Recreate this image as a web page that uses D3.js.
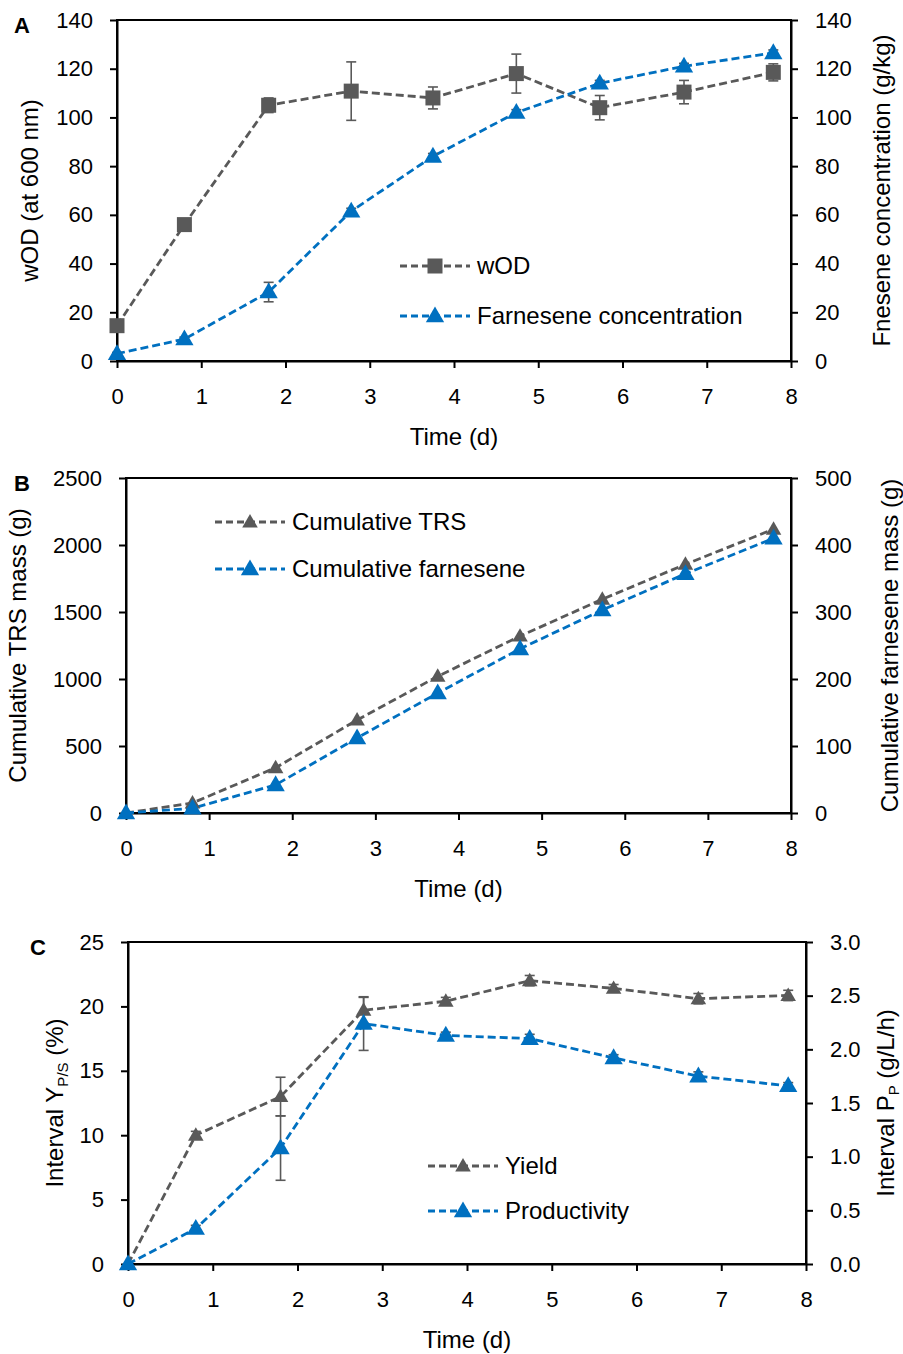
<!DOCTYPE html>
<html>
<head>
<meta charset="utf-8">
<script src="https://cdn.jsdelivr.net/npm/d3@7"></script>
<style>
  body { margin: 0; background: #fff; }
  svg { font-family: "Liberation Sans", Arial, sans-serif; }
</style>
</head>
<body>
<div id="chart"></div>
<script>
"use strict"

// sampling times (d)
const days = [0, 0.8, 1.8, 2.78, 3.75, 4.74, 5.73, 6.73, 7.79]
const xTicks = [0, 1, 2, 3, 4, 5, 6, 7, 8]

// panel A
const wOD = [14.5, 56, 105, 110.8, 108, 118, 104, 110.4, 118.5]
const wODErr = [1, 1, 3, 12, 4.5, 8, 5, 4.8, 3.5]
const farnConc = [3, 9, 28.3, 61.5, 84, 102, 114, 121, 126.5]
const farnConcErr = [0.5, 0.8, 4, 1.2, 1.2, 1.2, 1.2, 1.2, 1.2]
const aLeftTicks = [0, 20, 40, 60, 80, 100, 120, 140]
const aRightTicks = [0, 20, 40, 60, 80, 100, 120, 140]

// panel B
const cumTRS = [0, 75, 338, 694, 1020, 1320, 1595, 1856, 2118]
const cumFarn = [0, 7, 42, 112, 179, 245, 303, 357, 410]
const bLeftTicks = [0, 500, 1000, 1500, 2000, 2500]
const bRightTicks = [0, 100, 200, 300, 400, 500]

// panel C
const yieldPct = [0, 10, 13, 19.7, 20.4, 22, 21.4, 20.6, 20.85]
const yieldErr = [0, 0.3, 1.5, 1.0, 0.3, 0.4, 0.3, 0.4, 0.4]
const productivity = [0, 0.33, 1.08, 2.24, 2.13, 2.1, 1.92, 1.75, 1.66]
const prodErr = [0, 0.03, 0.3, 0.25, 0.03, 0.04, 0.03, 0.04, 0.03]
const cLeftTicks = [0, 5, 10, 15, 20, 25]
const cRightTicks = [0, 0.5, 1, 1.5, 2, 2.5, 3]

const gray = "#595959"
const blue = "#0070C0"

const svg = d3.select("#chart").append("svg")
  .attr("width", 903)
  .attr("height", 1354)

function marker(g, shape, color, x, y, big) {
  if (shape == "square") {
    g.append("rect")
      .attr("x", x - 7.5).attr("y", y - 7.5)
      .attr("width", 15).attr("height", 15)
      .attr("fill", color)
  } else {
    g.append("path")
      .attr("d", d3.symbol(d3.symbolTriangle, big ? 145 : 105)())
      .attr("transform", `translate(${x},${y + 1})`)
      .attr("fill", color)
  }
}

function drawPanel(p) {
  const g = svg.append("g")

  const x = d3.scaleLinear().domain([0, 8]).range([p.left, p.right])
  const yL = d3.scaleLinear().domain(p.leftDomain).range([p.bottom, p.top])
  const yR = d3.scaleLinear().domain(p.rightDomain).range([p.bottom, p.top])

  // frame
  g.append("rect")
    .attr("x", p.left).attr("y", p.top)
    .attr("width", p.right - p.left).attr("height", p.bottom - p.top)
    .attr("fill", "none").attr("stroke", "#000").attr("stroke-width", 2)

  const fmtR = p.rightFormat || (d => d)

  const axL = g.append("g")
    .attr("transform", `translate(${p.left},0)`)
    .call(d3.axisLeft(yL).tickValues(p.leftTicks).tickFormat(d => d).tickSize(7).tickSizeOuter(0).tickPadding(17))
  const axR = g.append("g")
    .attr("transform", `translate(${p.right},0)`)
    .call(d3.axisRight(yR).tickValues(p.rightTicks).tickFormat(fmtR).tickSize(7).tickSizeOuter(0).tickPadding(17))
  const axB = g.append("g")
    .attr("transform", `translate(0,${p.bottom})`)
    .call(d3.axisBottom(x).tickValues(xTicks).tickFormat(d => d).tickSize(7).tickSizeOuter(0).tickPadding(20))

  for (let ax of [axL, axR, axB]) {
    ax.select(".domain").attr("stroke-width", 2)
    ax.selectAll(".tick line").attr("stroke-width", 2)
    ax.selectAll(".tick text")
      .attr("font-size", 22)
      .attr("font-family", "Liberation Sans, Arial, sans-serif")
      .attr("fill", "#000")
  }

  // axis titles
  g.append("text")
    .attr("x", (p.left + p.right) / 2)
    .attr("y", p.bottom + 84)
    .attr("text-anchor", "middle")
    .attr("font-size", 24)
    .text("Time (d)")

  const lt = g.append("text")
    .attr("transform", `translate(${p.leftTitleX},${(p.top + p.bottom) / 2}) rotate(-90)`)
    .attr("text-anchor", "middle")
    .attr("dy", "0.35em")
    .attr("font-size", 24)
  p.leftTitle(lt)

  const rt = g.append("text")
    .attr("transform", `translate(${p.rightTitleX},${(p.top + p.bottom) / 2}) rotate(-90)`)
    .attr("text-anchor", "middle")
    .attr("dy", "0.35em")
    .attr("font-size", 24)
  p.rightTitle(rt)

  // panel letter
  g.append("text")
    .attr("x", p.letterX).attr("y", p.top + 13)
    .attr("text-anchor", "middle")
    .attr("font-size", 22)
    .attr("font-weight", "bold")
    .text(p.letter)

  // series
  for (let s of p.series) {
    const y = s.axis == "left" ? yL : yR
    const line = d3.line().x((d, i) => x(days[i])).y(d => y(d))

    g.append("path")
      .datum(s.values)
      .attr("d", line)
      .attr("fill", "none")
      .attr("stroke", s.color)
      .attr("stroke-width", 2.8)
      .attr("stroke-dasharray", "8,4")

    if (s.errors) {
      s.values.forEach((v, i) => {
        const e = s.errors[i]
        if (!e) return
        const cx = x(days[i])
        const y1 = y(v - e), y2 = y(v + e)
        g.append("line").attr("x1", cx).attr("x2", cx).attr("y1", y1).attr("y2", y2)
          .attr("stroke", gray).attr("stroke-width", 1.6)
        for (let yy of [y1, y2]) {
          g.append("line").attr("x1", cx - 5).attr("x2", cx + 5).attr("y1", yy).attr("y2", yy)
            .attr("stroke", gray).attr("stroke-width", 1.6)
        }
      })
    }
  }
  for (let s of p.series) {
    const y = s.axis == "left" ? yL : yR
    s.values.forEach((v, i) => marker(g, s.shape, s.color, x(days[i]), y(v), s.big))
  }

  // legend
  p.series.forEach((s, i) => {
    const ly = p.legend.y[i]
    g.append("line")
      .attr("x1", p.legend.x).attr("x2", p.legend.x + 70)
      .attr("y1", ly).attr("y2", ly)
      .attr("stroke", s.color).attr("stroke-width", 2.8)
      .attr("stroke-dasharray", "7,4")
    marker(g, s.shape, s.color, p.legend.x + 35, ly, s.big)
    g.append("text")
      .attr("x", p.legend.x + 77).attr("y", ly)
      .attr("dy", "0.35em")
      .attr("font-size", 24)
      .text(s.name)
  })
}

function sub(text, main, subscript, rest) {
  text.append("tspan").text(main)
  text.append("tspan").attr("font-size", 15).attr("dy", 5).text(subscript)
  text.append("tspan").attr("dy", -5).text(rest)
}

drawPanel({
  letter: "A", letterX: 22,
  left: 117, right: 791, top: 20, bottom: 361,
  leftDomain: [0, 140], rightDomain: [0, 140],
  leftTicks: aLeftTicks, rightTicks: aRightTicks,
  leftTitleX: 30, rightTitleX: 882,
  leftTitle: t => t.text("wOD (at 600 nm)"),
  rightTitle: t => t.text("Fnesene concentration (g/kg)"),
  legend: { x: 400, y: [266, 316] },
  series: [
    { name: "wOD", values: wOD, errors: wODErr, axis: "left", color: gray, shape: "square" },
    { name: "Farnesene concentration", values: farnConc, errors: farnConcErr, axis: "right", color: blue, shape: "triangle", big: true }
  ]
})

drawPanel({
  letter: "B", letterX: 22,
  left: 126, right: 791, top: 478, bottom: 813,
  leftDomain: [0, 2500], rightDomain: [0, 500],
  leftTicks: bLeftTicks, rightTicks: bRightTicks,
  leftTitleX: 18, rightTitleX: 890,
  leftTitle: t => t.text("Cumulative TRS mass (g)"),
  rightTitle: t => t.text("Cumulative farnesene mass (g)"),
  legend: { x: 215, y: [522, 569] },
  series: [
    { name: "Cumulative TRS", values: cumTRS, axis: "left", color: gray, shape: "triangle" },
    { name: "Cumulative farnesene", values: cumFarn, axis: "right", color: blue, shape: "triangle", big: true }
  ]
})

drawPanel({
  letter: "C", letterX: 38,
  left: 128, right: 806, top: 942, bottom: 1264,
  leftDomain: [0, 25], rightDomain: [0, 3],
  leftTicks: cLeftTicks, rightTicks: cRightTicks,
  rightFormat: d3.format(".1f"),
  leftTitleX: 55, rightTitleX: 886,
  leftTitle: t => sub(t, "Interval Y", "P/S", " (%)"),
  rightTitle: t => sub(t, "Interval P", "P", " (g/L/h)"),
  legend: { x: 428, y: [1166, 1211] },
  series: [
    { name: "Yield", values: yieldPct, errors: yieldErr, axis: "left", color: gray, shape: "triangle" },
    { name: "Productivity", values: productivity, errors: prodErr, axis: "right", color: blue, shape: "triangle", big: true }
  ]
})
</script>
</body>
</html>
